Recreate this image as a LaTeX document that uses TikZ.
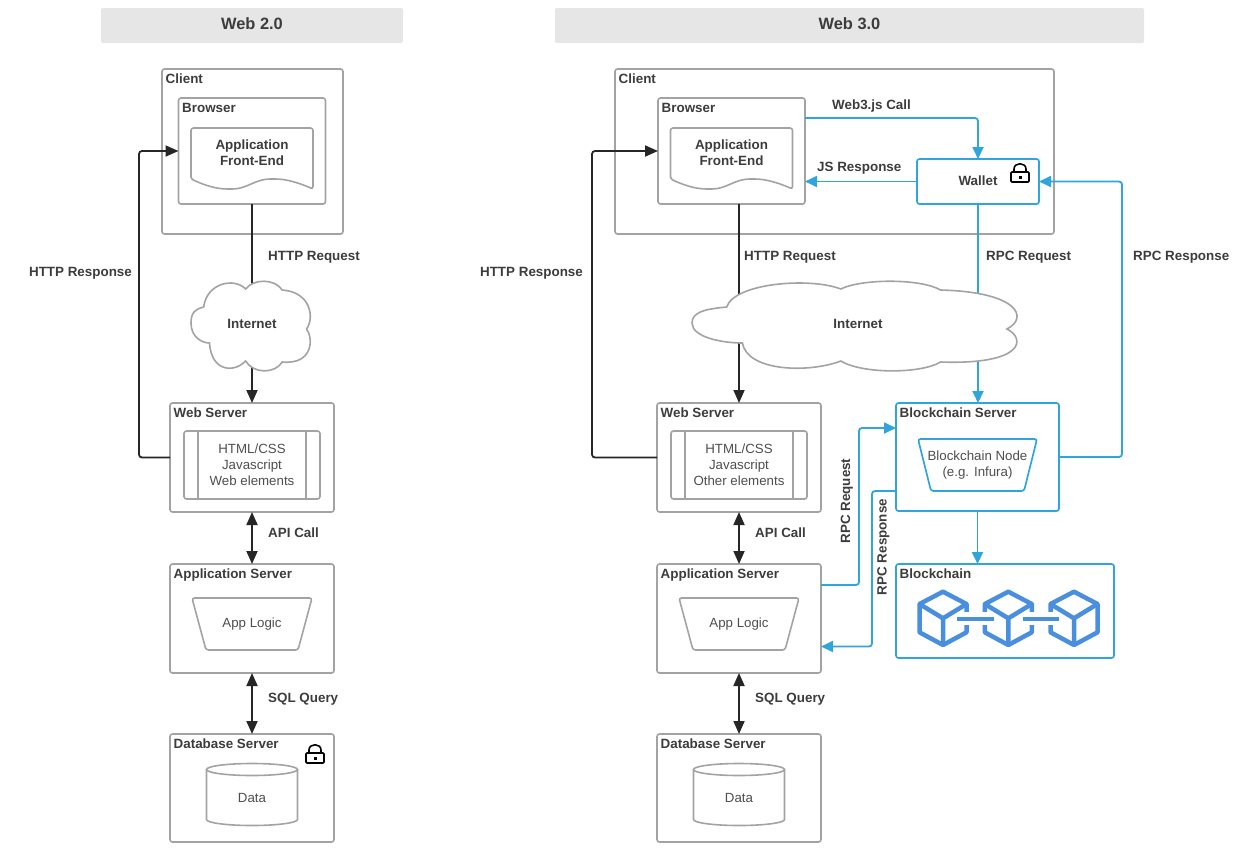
\documentclass[tikz,border=0pt]{standalone}
\usepackage{fontspec}
\setmainfont{Liberation Sans}
\usetikzlibrary{arrows.meta}
\definecolor{boxgray}{HTML}{A3A3A3}
\definecolor{headgray}{HTML}{E6E6E6}
\definecolor{inkgray}{HTML}{3C3C3C}
\definecolor{plaingray}{HTML}{4E4E4E}
\definecolor{linkblue}{HTML}{2FA5DB}
\definecolor{cubeblue}{HTML}{4A8FDD}
\tikzset{
    boxline/.style={draw=boxgray,line width=1.6pt,rounded corners=2.5pt},
    bluebox/.style={draw=linkblue,line width=1.7pt,rounded corners=2.5pt},
    nodebox/.style={inner sep=0pt,outer sep=0pt,font=\fontsize{13.3}{16}\selectfont,text=plaingray,align=center},
    boldtext/.style={inner sep=0pt,font=\fontsize{13.4}{16}\selectfont\bfseries,text=inkgray,align=center},
    oneline/.style={boldtext,text height=10pt,text depth=0pt},
    headbox/.style={fill=headgray,rounded corners=2pt,inner sep=0pt,minimum height=35pt,text depth=3pt,font=\fontsize{16.4}{18}\selectfont\bfseries,text=inkgray},
    blackarrow/.style={draw=black!85,line width=1.8pt,rounded corners=3pt},
    bluearrow/.style={draw=linkblue,line width=1.8pt,rounded corners=3pt},
    blacktip/.style={-{Triangle[length=13pt,width=11pt]}},
    bothtip/.style={{Triangle[length=13pt,width=11pt]}-{Triangle[length=13pt,width=11pt]}},
    bluetip/.style={-{Triangle[length=12pt,width=11pt]}},
    cubeline/.style={draw=cubeblue,line width=4.5pt,line join=round},
    padlock/.pic={
        \draw[black,line width=1.6pt,rounded corners=1pt] (-9,-5) rectangle (9,5);
        \draw[black,line width=1.6pt] (-6,-5) -- (-6,-8) .. controls (-6,-15) and (6,-15) .. (6,-8) -- (6,-5);
        \fill[black] (-1.5,-1.5) rectangle (1.5,1.5);
    }
}
% stretched cloud, x runs from 0 to 1 over the width
\newcommand{\cloudshape}[2]{
    \begin{scope}[shift={(#1,0)},xscale=#2]
        \filldraw[draw=boxgray,fill=white,line width=1.6pt]
            (.106,307) .. controls (.13,283) and (.36,277) .. (.455,289)
            .. controls (.52,278.5) and (.7,278.5) .. (.76,290)
            .. controls (1,292) and (1.03,318) .. (.963,329)
            .. controls (1.02,338) and (1.02,365) .. (.76,362)
            .. controls (.7,374) and (.52,374) .. (.455,361)
            .. controls (.36,373) and (.17,372) .. (.154,343)
            .. controls (.09,343) and (0,337) .. (0,323)
            .. controls (0,312) and (.04,309) .. (.106,307) -- cycle;
    \end{scope}
}

\begin{document}
\begin{tikzpicture}[x=1pt,y=-1pt]
    \useasboundingbox (0,0) rectangle (1260,854);

    \node[headbox,minimum width=302pt] (headL) at (252,25.5) {Web 2.0};
    \node[headbox,minimum width=589pt] (headR) at (849.5,25.5) {Web 3.0};

    \node[boxline,nodebox,minimum width=181pt,minimum height=165pt] (clientL) at (252.5,151.5) {};
    \node[boxline,nodebox,minimum width=439pt,minimum height=165pt] (clientR) at (834.5,151.5) {};

    % the same column twice
    \foreach \s/\cx/\bx/\last in {L/252/252/Web elements,R/739/731.5/Other elements}
    {
        \node[boxline,nodebox,minimum width=147pt,minimum height=106pt] (browser\s) at (\bx,151) {};
        \begin{scope}[shift={(\bx,0)}]
            \draw[boxline] (-61,179) -- (-61,128) -- (61,128) -- (61,189)
                .. controls (45,182) and (33,179) .. (21,179)
                .. controls (3,179) and (-5,189) .. (-22,189)
                .. controls (-38,189) and (-50,184) .. (-61,179) -- cycle;
        \end{scope}
        \node[boldtext] (front\s) at (\bx,153) {Application\\Front-End};

        \node[boxline,nodebox,minimum width=164pt,minimum height=109pt] (web\s) at (\cx,457.5) {};
        \node[boxline,nodebox,minimum width=136pt,minimum height=68pt] (page\s) at (\cx,465) {HTML/CSS\\Javascript\\\last};
        \draw[boxline] ([xshift=14pt]page\s.north west) -- ([xshift=14pt]page\s.south west);
        \draw[boxline] ([xshift=-14pt]page\s.north east) -- ([xshift=-14pt]page\s.south east);

        \node[boxline,nodebox,minimum width=164pt,minimum height=109pt] (app\s) at (\cx,618.5) {};
        \node[nodebox,minimum width=120pt,minimum height=52pt] (logic\s) at (\cx,624) {App Logic};
        \draw[boxline] (logic\s.north west) -- (logic\s.north east) -- ([xshift=-14pt]logic\s.south east) -- ([xshift=14pt]logic\s.south west) -- cycle;

        \node[boxline,nodebox,minimum width=164pt,minimum height=108pt] (db\s) at (\cx,788) {};
        \node[nodebox,minimum width=91pt,minimum height=62pt] (can\s) at (\cx,794.5) {};
        \draw[boxline,sharp corners] ([yshift=-6pt]can\s.north west) -- ([yshift=6pt]can\s.south west)
            arc[start angle=180,end angle=360,x radius=45.5pt,y radius=6pt]
            -- ([yshift=-6pt]can\s.north east);
        \draw[boxline,sharp corners] ([yshift=-6pt]can\s.north) ellipse [x radius=45.5pt,y radius=6pt];
        \node[nodebox] (data\s) at (\cx,798) {Data};

        \draw[blackarrow,blacktip] (web\s.north |- browser\s.south) -- (web\s.north);
        \draw[blackarrow,bothtip] (web\s.south) -- (app\s.north);
        \draw[blackarrow,bothtip] (app\s.south) -- (db\s.north);
    }

    \node[bluebox,nodebox,minimum width=122pt,minimum height=45pt] (wallet) at (978,181.5) {};
    \node[oneline] (wallettext) at (978,180) {Wallet};
    \node[bluebox,nodebox,minimum width=163pt,minimum height=108pt] (chainserver) at (977.5,457) {};
    \node[nodebox,minimum width=119pt,minimum height=52pt] (chainnode) at (977.5,465) {Blockchain Node\\(e.g. Infura)};
    \draw[bluebox] (chainnode.north west) -- (chainnode.north east) -- ([xshift=-13pt]chainnode.south east) -- ([xshift=13pt]chainnode.south west) -- cycle;
    \node[bluebox,nodebox,minimum width=218pt,minimum height=94pt] (chain) at (1005,611) {};

    \foreach \n/\t in {clientL/Client,browserL/Browser,webL/Web Server,appL/Application Server,dbL/Database Server,clientR/Client,browserR/Browser,webR/Web Server,appR/Application Server,dbR/Database Server,chainserver/Blockchain Server,chain/Blockchain}
    {
        \node[oneline,anchor=west] (\n title) at ([xshift=3.5pt,yshift=-9.8pt]\n.north west) {\t};
    }

    \draw[blackarrow,blacktip] (webL.west) -- ++(-31,0) |- (browserL.west);
    \draw[blackarrow,blacktip] (webR.west) -- ++(-65,0) |- (browserR.west);

    \draw[bluearrow,bluetip] ([yshift=33pt]browserR.east) -| (wallet.north);
    \draw[bluearrow,bluetip] (wallet.west) -- (browserR.east |- wallet.west);
    \draw[bluearrow,bluetip] (wallet.south) -- (wallet.south |- chainserver.north);
    \draw[bluearrow,bluetip] (chainserver.east) -- ++(63,0) |- (wallet.east);
    \draw[bluearrow,bluetip] ([yshift=33.5pt]appR.east) -- ++(38,0) |- ([yshift=29pt]chainserver.west);
    \draw[bluearrow,bluetip] ([yshift=-34pt]chainserver.west) -- ++(-24,0) |- ([yshift=-28pt]appR.east);
    \draw[bluearrow,bluetip] (chainserver.south) -- (chainserver.south |- chain.north);

    \cloudshape{191}{120}
    \cloudshape{692}{327}
    \node[oneline] (netL) at (252,323) {Internet};
    \node[oneline] (netR) at (858,323) {Internet};

    % blocks
    \foreach \c in {943,1008.3,1074}
    {
        \begin{scope}[shift={(\c,0)}]
            \draw[cubeline] (0,591.7) -- (23.5,604) -- (23.5,632.3) -- (0,645) -- (-23.5,632.3) -- (-23.5,604) -- cycle;
            \draw[cubeline] (-23.5,604) -- (0,618.3) -- (23.5,604) (0,618.3) -- (0,645);
        \end{scope}
    }
    \foreach \g in {966.5,984.8,1031.8,1050.5}
    {
        \draw[white,line width=6.5pt] (\g,612) -- (\g,625);
    }
    \draw[cubeline] (957.3,619) -- (994,619);
    \draw[cubeline] (1022.7,619) -- (1059.3,619);

    \pic (lockdb) at (315,758) {padlock};
    \pic (lockwallet) at (1020,177) {padlock};

    \node[oneline] (respL) at (80.5,271) {HTTP Response};
    \node[oneline,anchor=west] (reqL) at (268,255.5) {HTTP Request};
    \node[oneline,anchor=west] (apiL) at (268,532) {API Call};
    \node[oneline,anchor=west] (sqlL) at (268,697) {SQL Query};
    \node[oneline] (respR) at (531.5,271) {HTTP Response};
    \node[oneline,anchor=west] (reqR) at (744,255.5) {HTTP Request};
    \node[oneline,anchor=west] (apiR) at (755,532) {API Call};
    \node[oneline,anchor=west] (sqlR) at (755,697) {SQL Query};
    \node[oneline,anchor=west] (web3call) at (832,104) {Web3.js Call};
    \node[oneline,anchor=west] (jsresp) at (817,166) {JS Response};
    \node[oneline,anchor=west] (rpcreq) at (986,255.5) {RPC Request};
    \node[oneline,anchor=west] (rpcresp) at (1133,255.5) {RPC Response};
    \node[oneline,rotate=90] (rpcreqside) at (845,501) {RPC Request};
    \node[oneline,rotate=90] (rpcrespside) at (881.5,547) {RPC Response};
\end{tikzpicture}
\end{document}
